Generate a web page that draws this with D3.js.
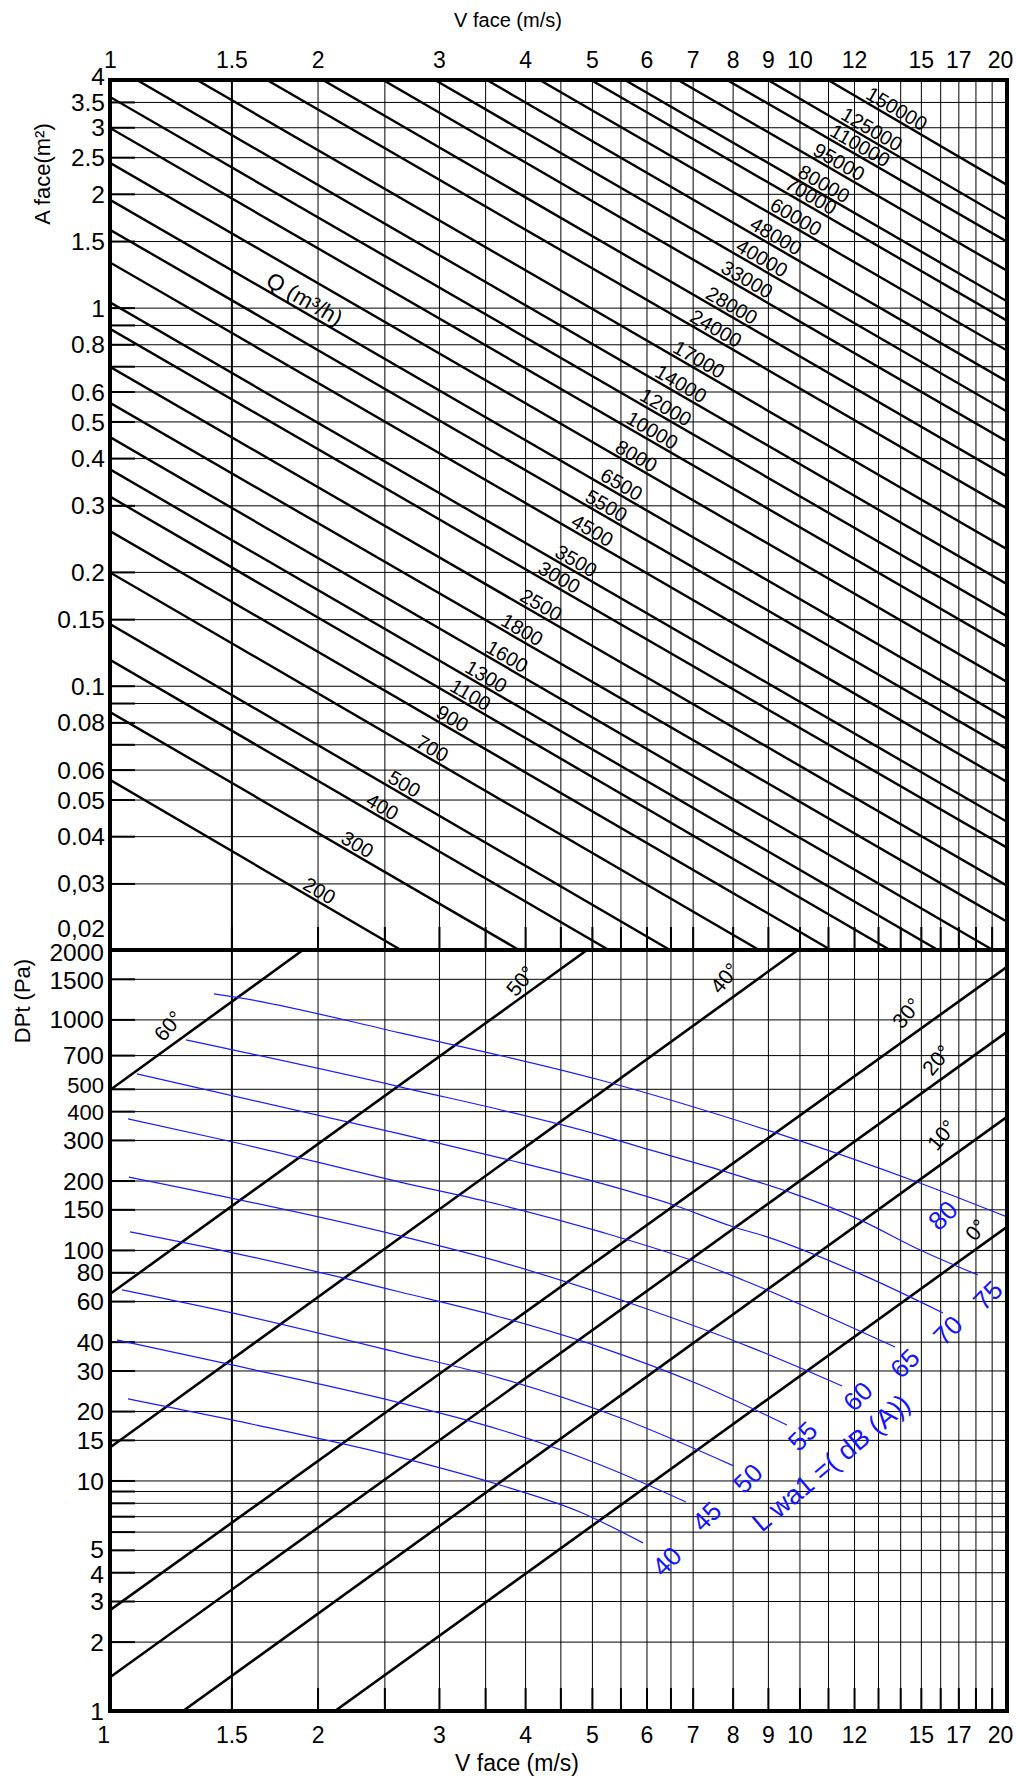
<!DOCTYPE html>
<html><head><meta charset="utf-8">
<script src="https://cdn.jsdelivr.net/npm/d3@7"></script>
<style>
body{margin:0;background:#fff}
svg{display:block}
text{font-family:"Liberation Sans",Arial,Helvetica,sans-serif;fill:#000}
</style></head>
<body><svg id="c" width="1016" height="1778"></svg>
<script>
// ---------- data ----------
const vTickValues = [1,1.5,2,3,4,5,6,7,8,9,10,12,15,17,20];
const vGrid = [1.5,2,2.5,3,3.5,4,4.5,5,5.5,6,6.5,7,8,9,10,11,12,13,14,15,16,17,18,19];
const aTickValues = [4,3.5,3,2.5,2,1.5,1,0.8,0.6,0.5,0.4,0.3,0.2,0.15,0.1,0.08,0.06,0.05,0.04,0.03,0.02];
const aTickLabels = ["4","3.5","3","2.5","2","1.5","1","0.8","0.6","0.5","0.4","0.3","0.2","0.15","0.1","0.08","0.06","0.05","0.04","0,03","0,02"];
const aGrid = [3.5,3,2.5,2,1.5,1,0.9,0.8,0.7,0.6,0.5,0.4,0.3,0.2,0.15,0.1,0.09,0.08,0.07,0.06,0.05,0.04,0.03];
const pTickValues = [2000,1500,1000,700,500,400,300,200,150,100,80,60,40,30,20,15,10,5,4,3,2,1];
const pGrid = [1500,1000,700,500,400,300,200,150,100,80,60,40,30,20,15,10,9,8,7,6,5,4,3,2];

// air flow lines Q (m3/h): start and end points [V, A]
const flowQ = [200,300,400,500,700,900,1100,1300,1600,1800,2500,3000,3500,4500,5500,6500,8000,10000,12000,
  14000,17000,24000,28000,33000,40000,48000,60000,70000,80000,95000,110000,125000,150000];
const flowStart = [[1,0.0564],[1,0.0852],[1,0.1171],[1,0.1455],[1,0.1993],[1,0.2566],[1,0.3163],[1,0.3734],[1,0.4545],
  [1,0.560],[1,0.697],[1,0.8785],[1,1.0325],[1,1.317],[1,1.607],[1,1.929],[1,2.415],[1,2.987],[1,3.607],
  [1.094,4],[1.337,4],[1.689,4],[2.036,4],[2.489,4],[2.96,4],[3.52,4],[4.20,4],[4.985,4],[5.582,4],[6.665,4],[7.85,4],[9.0,4],[11.0,4]];
const flowEnd = [[2.642,0.02],[3.92,0.02],[5.29,0.02],[6.49,0.02],[8.74,0.02],[11.11,0.02],[13.53,0.02],[15.88,0.02],[19.08,0.02],
  [20,0.02377],[20,0.02959],[20,0.03728],[20,0.04366],[20,0.05568],[20,0.06805],[20,0.08167],[20,0.1023],[20,0.1265],[20,0.1528],
  [20,0.1856],[20,0.2296],[20,0.2945],[20,0.3578],[20,0.4427],[20,0.531],[20,0.638],[20,0.770],[20,0.924],[20,1.0395],[20,1.252],[20,1.494],[20,1.707],[20,2.112]];
const flowLabelV = [1.886,2.141,2.327,2.505,2.75,2.941,3.082,3.24,3.475,3.653,3.893,4.135,4.375,4.62,4.84,5.09,5.35,5.55,5.81,
  6.11,6.49,6.87,7.24,7.62,8.01,8.39,8.97,9.43,9.85,10.36,10.96,11.37,12.36];

// pressure-drop angle lines: start and end points [V, DPt]
const angleNames = ["60°","50°","40°","30°","20°","10°","0°"];
const angleStart = [[1,494],[1,64.4],[1,13.9],[1,2.74],[1,1.40],[1.276,1],[2.12,1]];
const angleEnd = [[1.905,2000],[4.92,2000],[9.95,2000],[20,1690],[20,883],[20,378],[20,126]];
const angleLabelPos = [[1.197,791],[3.88,1240],[7.67,1277],[14.08,900],[15.57,563],[15.83,266],[17.97,108]];

// sound power level curves L wa1 dB(A): points [V, DPt]
const dbLevels = [40,45,50,55,60,65,70,75,80];
const db40 = [[1.062,22.6],[1.503,18.3],[2.634,12.6],[3.679,9.56],[4.805,7.30],[5.93,5.36]];
const db45 = [[1.024,40.7],[1.503,31.7],[2.634,21.7],[3.679,16.6],[5.136,11.7],[6.845,8.07]];
const db50 = [[1.041,67.1],[1.503,53.3],[2.634,35.7],[3.679,27.8],[5.492,18.7],[8.01,11.6]];
const db55 = [[1.069,119.7],[1.508,97.1],[2.177,75.6],[2.634,65.7],[3.679,51.2],[5.136,37.9],[7.17,26],[9.59,17.4]];
const db60 = [[1.065,207],[2.634,115],[3.679,88.7],[6.07,54.9],[8.48,37.9],[11.53,25.7]];
const db65 = [[1.062,370],[1.508,294],[2.634,197],[3.679,157],[5.136,120],[7.49,83.5],[8.28,74.1],[13.76,37.9]];
const db70 = [[1.094,580],[2.634,319],[3.679,251],[5.136,195],[6.555,157],[8.01,126],[8.97,114],[12.53,76.4],[16.15,53.3]];
const db75 = [[1.289,815],[2.634,510],[5.136,315],[6.07,271.5],[7.67,222],[12.24,135],[14.96,100],[18.15,77.9]];
const db80 = [[1.415,1290],[1.543,1240],[2.634,874],[5.136,546],[9.15,325],[14.81,197],[20,139]];
const dbCurves = [db40,db45,db50,db55,db60,db65,db70,db75,db80];
const dbLabelPos = [[6.34,3.78],[7.24,5.92],[8.31,8.65],[9.98,13.2],[12.0,19.6],[14.04,27.3],[16.2,37.9],[18.52,53.8],[15.94,119.7]];
const dbTitle = "L wa1 =( dB (A))";
const dbTitlePos = [8.82,5.92];
const qTitle = "Q (m³/h)";
const qTitlePos = [1.675,1.15];

// ---------- drawing ----------
const L=110, R=1007, T=80, M=950, B=1711;
const x = d3.scaleLog().domain([1,20]).range([L,R]);
const yA = d3.scaleLog().domain([0.02,4]).range([M,T]);
const yP = d3.scaleLog().domain([1,2000]).range([B,M]);
const svg = d3.select("#c");
const FONT = 24.5;
// small vertical nudges (px) and sizes of crowded DPt labels, as in the original
const pNudge = {2000:2,1500:1,500:-4,400:1,5:-1,4:2};
const pSize = {500:22,400:22};

function clean(sel){ sel.select(".domain").remove(); }

// vertical grid
svg.append("g").attr("transform",`translate(0,${B})`)
  .call(d3.axisBottom(x).tickValues(vGrid).tickSize(-(B-T)).tickFormat(""))
  .call(clean)
  .call(a=>a.selectAll("line").attr("stroke","#000").attr("stroke-width",d=>d===1.5?2:1));
// horizontal grids
svg.append("g").attr("transform",`translate(${L},0)`)
  .call(d3.axisLeft(yA).tickValues(aGrid).tickSize(-(R-L)).tickFormat(""))
  .call(clean).call(a=>a.selectAll("line").attr("stroke","#000").attr("stroke-width",1));
svg.append("g").attr("transform",`translate(${L},0)`)
  .call(d3.axisLeft(yP).tickValues(pGrid).tickSize(-(R-L)).tickFormat(""))
  .call(clean).call(a=>a.selectAll("line").attr("stroke","#000").attr("stroke-width",1));
// short inner tick marks
[[yA,aGrid],[yP,pGrid]].forEach(([s,v])=>{
  svg.append("g").attr("transform",`translate(${L},0)`)
    .call(d3.axisLeft(s).tickValues(v).tickSize(-25).tickFormat(""))
    .call(clean).call(a=>a.selectAll("line").attr("stroke","#000").attr("stroke-width",2));
});
[M,B].forEach(yy=>{
  svg.append("g").attr("transform",`translate(0,${yy})`)
    .call(d3.axisBottom(x).tickValues(vGrid).tickSize(-23).tickFormat(""))
    .call(clean).call(a=>a.selectAll("line").attr("stroke","#000").attr("stroke-width",2));
});

// clip paths
const defs = svg.append("defs");
defs.append("clipPath").attr("id","cTop").append("rect").attr("x",L).attr("y",T).attr("width",R-L).attr("height",M-T);
defs.append("clipPath").attr("id","cBot").append("rect").attr("x",L).attr("y",M).attr("width",R-L).attr("height",B-M);

// flow lines
const gq = svg.append("g").attr("clip-path","url(#cTop)");
const qlab = svg.append("g");
flowQ.forEach((q,i)=>{
  const x1=x(flowStart[i][0]), y1=yA(flowStart[i][1]), x2=x(flowEnd[i][0]), y2=yA(flowEnd[i][1]);
  gq.append("line").attr("x1",x1).attr("y1",y1).attr("x2",x2).attr("y2",y2)
    .attr("stroke","#000").attr("stroke-width",2.4);
  const ang = Math.atan2(y2-y1,x2-x1)*180/Math.PI;
  const lx = x(flowLabelV[i]);
  const ly = y1 + (lx-x1)/(x2-x1)*(y2-y1);
  qlab.append("text").attr("transform",`translate(${lx},${ly}) rotate(${ang})`)
    .attr("dy",-3).attr("font-size",20).text(q);
});
{
  const i=15;
  const ang = Math.atan2(yA(flowEnd[i][1])-yA(flowStart[i][1]), x(flowEnd[i][0])-x(flowStart[i][0]))*180/Math.PI;
  qlab.append("text").attr("transform",`translate(${x(qTitlePos[0])},${yA(qTitlePos[1])}) rotate(${ang})`)
    .attr("font-size",22.5).text(qTitle);
}

// angle lines
const ga = svg.append("g").attr("clip-path","url(#cBot)");
angleNames.forEach((n,i)=>{
  ga.append("line").attr("x1",x(angleStart[i][0])).attr("y1",yP(angleStart[i][1]))
    .attr("x2",x(angleEnd[i][0])).attr("y2",yP(angleEnd[i][1]))
    .attr("stroke","#000").attr("stroke-width",2.6);
  svg.append("text").attr("transform",`translate(${x(angleLabelPos[i][0])},${yP(angleLabelPos[i][1])}) rotate(-50)`)
    .attr("font-size",21).text(n);
});

// sound curves
const line = d3.line().x(d=>x(d[0])).y(d=>yP(d[1])).curve(d3.curveMonotoneX);
const gb = svg.append("g").attr("clip-path","url(#cBot)");
dbCurves.forEach((c,i)=>{
  gb.append("path").attr("d",line(c)).attr("fill","none").attr("stroke","#1a1aff").attr("stroke-width",1.2);
  svg.append("text").attr("transform",`translate(${x(dbLabelPos[i][0])},${yP(dbLabelPos[i][1])}) rotate(-45)`)
    .attr("font-size",26).style("fill","#1414ff").text(dbLevels[i]);
});
svg.append("text").attr("transform",`translate(${x(dbTitlePos[0])},${yP(dbTitlePos[1])}) rotate(-40)`)
  .attr("font-size",27).style("fill","#1414ff").text(dbTitle);

// frame
svg.append("rect").attr("x",L).attr("y",T).attr("width",R-L).attr("height",B-T)
  .attr("fill","none").attr("stroke","#000").attr("stroke-width",4);
svg.append("line").attr("x1",L).attr("x2",R).attr("y1",M).attr("y2",M).attr("stroke","#000").attr("stroke-width",4);

// axis labels
svg.append("g").attr("transform",`translate(${L},0)`)
  .call(d3.axisLeft(yA).tickValues(aTickValues).tickFormat((d,i)=>aTickLabels[i]).tickSize(0).tickPadding(5))
  .call(clean)
  .call(a=>a.selectAll("text").attr("font-size",FONT).attr("font-family",null)
     .attr("dy",d=>d===0.02?"-0.55em":(d===4?"0.2em":"0.35em")));
svg.append("g").attr("transform",`translate(${L},0)`)
  .call(d3.axisLeft(yP).tickValues(pTickValues).tickFormat(d3.format("d")).tickSize(0).tickPadding(6))
  .call(clean)
  .call(a=>a.selectAll("text").attr("font-size",d=>pSize[d]||FONT).attr("font-family",null)
     .attr("y",d=>pNudge[d]||0).attr("dy","0.35em"));
svg.append("g").attr("transform",`translate(0,${T})`)
  .call(d3.axisTop(x).tickValues(vTickValues).tickFormat(d=>String(d)).tickSize(0).tickPadding(12))
  .call(clean)
  .call(a=>a.selectAll("text").attr("font-size",23).attr("font-family",null).attr("dx",d=>d===20?"-0.3em":0));
svg.append("g").attr("transform",`translate(0,${B})`)
  .call(d3.axisBottom(x).tickValues(vTickValues).tickFormat(d=>String(d)).tickSize(0).tickPadding(16))
  .call(clean)
  .call(a=>a.selectAll("text").attr("font-size",23).attr("font-family",null).attr("dx",d=>d===20?"-0.3em":(d===1?"-0.3em":0)));

// titles
svg.append("text").attr("x",508).attr("y",27).attr("text-anchor","middle").attr("font-size",20).text("V face (m/s)");
svg.append("text").attr("x",517).attr("y",1771).attr("text-anchor","middle").attr("font-size",23).text("V face (m/s)");
svg.append("text").attr("transform","translate(50,174) rotate(-90)").attr("text-anchor","middle").attr("font-size",22).text("A face(m²)");
svg.append("text").attr("transform","translate(30,1001) rotate(-90)").attr("text-anchor","middle").attr("font-size",22).text("DPt (Pa)");
</script></body></html>
